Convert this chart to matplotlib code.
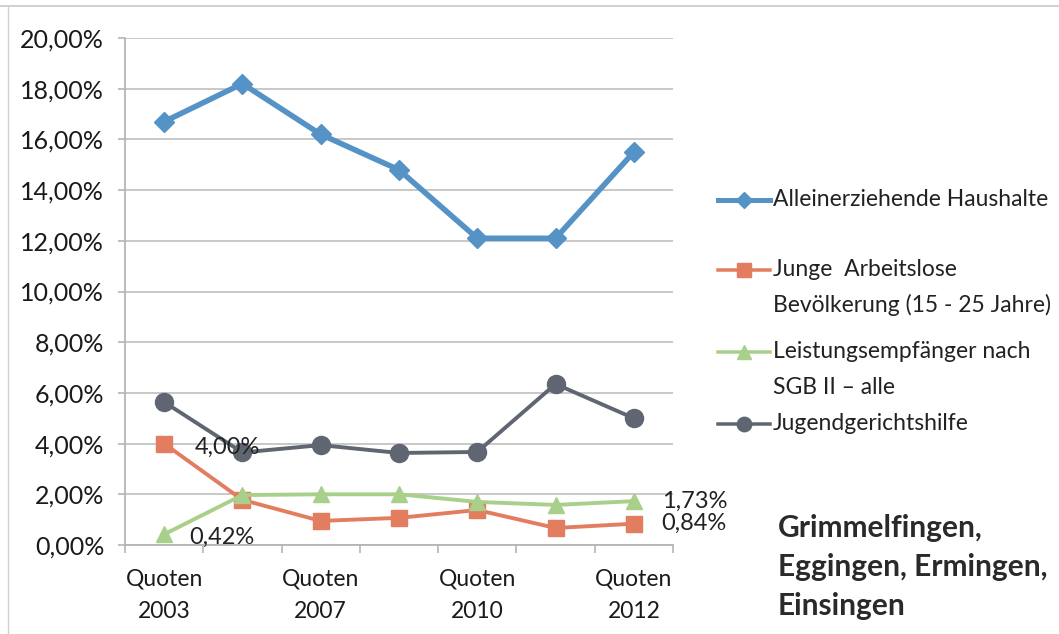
import matplotlib
matplotlib.use("Agg")
import matplotlib.pyplot as plt
from matplotlib.lines import Line2D
import numpy as np

plt.rcParams['font.family'] = ['Lato', 'DejaVu Sans']

# Category labels (only every other period is labelled on the axis)
categories = ["Quoten\n2003", "", "Quoten\n2007", "", "Quoten\n2010", "", "Quoten\n2012"]

# Rates in percent
alleinerziehende = [16.7, 18.2, 16.2, 14.8, 12.1, 12.1, 15.5]
junge_arbeitslose = [4.00, 1.78, 0.95, 1.07, 1.38, 0.67, 0.84]
sgb2 = [0.42, 1.97, 2.00, 2.00, 1.70, 1.58, 1.73]
jugendgericht = [5.64, 3.65, 3.94, 3.63, 3.67, 6.35, 5.00]

series_names = [
    "Alleinerziehende Haushalte",
    "Junge  Arbeitslose\nBevölkerung (15 - 25 Jahre)",
    "Leistungsempfänger nach\nSGB II – alle",
    "Jugendgerichtshilfe",
]

yticks = [0, 2, 4, 6, 8, 10, 12, 14, 16, 18, 20]

styles = [
    dict(color="#5593c6", marker="D", lw=4.0, ms=10.5),
    dict(color="#e37d60", marker="s", lw=2.8, ms=12),
    dict(color="#a8d08a", marker="^", lw=2.8, ms=12),
    dict(color="#5f6671", marker="o", lw=2.8, ms=13),
]


def pct(v):
    return f"{v:.2f}".replace(".", ",") + "%"


fig = plt.figure(figsize=(10.59, 6.34), dpi=100)
ax = fig.add_axes([0.118, 0.1404, 0.5175, 0.7996])

x = np.arange(len(categories))
all_series = [alleinerziehende, junge_arbeitslose, sgb2, jugendgericht]
for i in [1, 2, 3, 0]:
    st = styles[i]
    ax.plot(x, all_series[i], color=st["color"], lw=st["lw"], marker=st["marker"],
            ms=st["ms"], mfc=st["color"], mec=st["color"], zorder=3 + i * 0.1,
            solid_joinstyle="round")

ax.set_xlim(-0.5, len(categories) - 0.5)
ax.set_ylim(0, 20)
ax.set_yticks(yticks)
ax.set_yticklabels([pct(v) for v in yticks], fontsize=18, color="#1a1a1a")
ax.yaxis.grid(True, color="#c4c4c4", lw=1.3)
ax.set_axisbelow(True)

ax.set_xticks(x)
ax.set_xticklabels(categories, fontsize=16.5, color="#1a1a1a", linespacing=1.7)
ax.tick_params(axis="x", length=0, pad=17)
ax.set_xticks(np.arange(len(categories) + 1) - 0.5, minor=True)
ax.tick_params(axis="x", which="minor", length=6, color="#b5b5b5", width=1.2)
ax.tick_params(axis="y", length=5, color="#b5b5b5", width=1.2, pad=10)

for side in ["top", "right"]:
    ax.spines[side].set_visible(False)
for side in ["left", "bottom"]:
    ax.spines[side].set_color("#b5b5b5")
    ax.spines[side].set_linewidth(1.3)

# Value labels
lab_kw = dict(fontsize=17, color="#222222", va="center", ha="left", zorder=6)
ax.annotate(pct(junge_arbeitslose[0]), (x[0], junge_arbeitslose[0]),
            xytext=(22, -3), textcoords="offset points", **lab_kw)
ax.annotate(pct(sgb2[0]), (x[0], sgb2[0]),
            xytext=(18, -2), textcoords="offset points", **lab_kw)
ax.annotate(pct(sgb2[-1]), (x[-1], sgb2[-1]),
            xytext=(20, 0), textcoords="offset points", **lab_kw)
ax.annotate(pct(junge_arbeitslose[-1]), (x[-1], junge_arbeitslose[-1]),
            xytext=(20, 0), textcoords="offset points", **lab_kw)

# Legend drawn in figure coordinates, marker aligned with the first text line
W, H = 1059, 634
legend_y = [200, 270, 352, 424]
for i, yy in enumerate(legend_y):
    st = styles[i]
    fy = 1 - yy / H
    fig.add_artist(Line2D([718 / W, 770 / W], [fy, fy], color=st["color"], lw=st["lw"] * 0.9,
                          transform=fig.transFigure))
    fig.add_artist(Line2D([744 / W], [fy], color=st["color"], marker=st["marker"],
                          ms=st["ms"] * 0.8, transform=fig.transFigure))
    for k, line in enumerate(series_names[i].split("\n")):
        fig.text(773 / W, 1 - (yy + 35 * k) / H, line, fontsize=16.5, color="#222222",
                 va="center", ha="left")

fig.text(778 / W, 1 - 528 / H, "Grimmelfingen,", fontsize=21.5, fontweight="bold",
         color="#2a2a2a", va="center", ha="left")
fig.text(778 / W, 1 - 567 / H, "Eggingen, Ermingen,", fontsize=21.5, fontweight="bold",
         color="#2a2a2a", va="center", ha="left")
fig.text(778 / W, 1 - 606 / H, "Einsingen", fontsize=21.5, fontweight="bold",
         color="#2a2a2a", va="center", ha="left")

# faint frame edges
fig.add_artist(Line2D([0, 1], [1 - 6 / H, 1 - 6 / H], color="#c8c8c8", lw=1.2, transform=fig.transFigure))
fig.add_artist(Line2D([8 / W, 8 / W], [0, 1 - 6 / H], color="#d0d0d0", lw=1.0, transform=fig.transFigure))

fig.savefig("out.png", dpi=100)
